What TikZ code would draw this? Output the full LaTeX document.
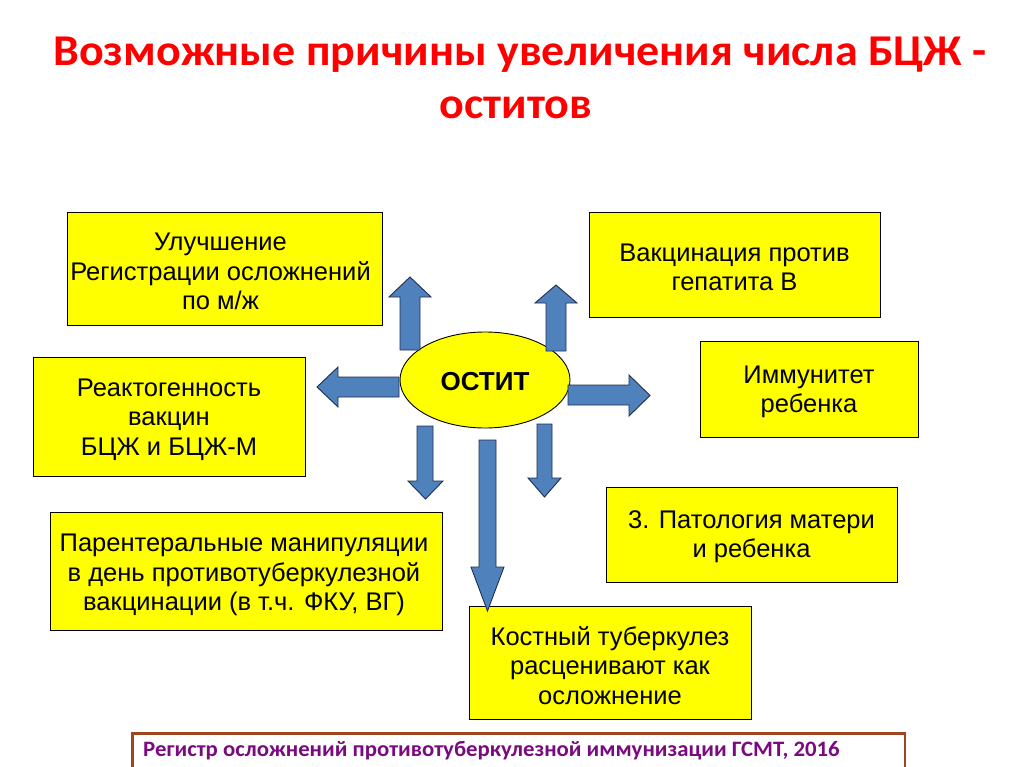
\documentclass[tikz,border=0pt]{standalone}
\usepackage{fontspec}
\setmainfont{Liberation Sans}
\newfontfamily\titlefont{Carlito}
\usetikzlibrary{shapes.geometric}
\definecolor{boxyellow}{HTML}{FFFF00}
\definecolor{arrowblue}{HTML}{4F81BD}
\definecolor{arrowedge}{HTML}{1F2F4F}
\definecolor{titlered}{HTML}{FF0000}
\definecolor{refbrown}{HTML}{A0461E}
\definecolor{refpurple}{HTML}{7A0A80}
\tikzset{
  causebox/.style={draw=black, line width=0.9pt, fill=boxyellow, inner sep=0pt},
  boxtext/.style={align=center, inner sep=0pt, font=\fontsize{25.5}{29.5}\selectfont},
  barrow/.style={draw=arrowedge, line width=0.9pt, fill=arrowblue, line join=miter},
  titletext/.style={anchor=base, inner sep=0pt, text=titlered, font=\titlefont\bfseries\fontsize{44}{53}\selectfont},
}
\begin{document}
\begin{tikzpicture}[x=1pt,y=-1pt]
\useasboundingbox (0,0) rectangle (1024,767);
\fill[white] (0,0) rectangle (1024,767);
% title
\node[titletext] (title1) at (520,66) {\scalebox{1.045}[1]{Возможные причины увеличения числа БЦЖ -}};
\node[titletext] (title2) at (516,119) {\scalebox{1.045}[1]{оститов}};
% boxes
\node[causebox, minimum width=315, minimum height=113] (reg) at (224.5,268.5) {};
\node[boxtext] (regtext) at ([xshift=-4pt,yshift=-3pt]reg.center) {Улучшение\\Регистрации осложнений\\по м/ж};
\node[causebox, minimum width=291, minimum height=105] (vac) at (734.5,264.5) {};
\node[boxtext] (vactext) at ([yshift=-3pt]vac.center) {Вакцинация против\\гепатита В};
\node[causebox, minimum width=218, minimum height=96] (imm) at (809,389) {};
\node[boxtext] (immtext) at ([yshift=-3pt]imm.center) {Иммунитет\\ребенка};
\node[causebox, minimum width=272, minimum height=119] (react) at (169,416.5) {};
\node[boxtext] (reacttext) at ([yshift=-3pt]react.center) {Реактогенность\\вакцин\\БЦЖ и БЦЖ-М};
\node[causebox, minimum width=291, minimum height=95] (pat) at (751.5,534.5) {};
\node[boxtext] (pattext) at ([yshift=-2pt]pat.center) {3. Патология матери\\и ребенка};
\node[causebox, minimum width=392, minimum height=118] (par) at (246,571) {};
\node[boxtext] (partext) at ([xshift=-2pt,yshift=-4pt]par.center) {Парентеральные манипуляции\\в день противотуберкулезной\\вакцинации (в т.ч. ФКУ, ВГ)};
\node[causebox, minimum width=282, minimum height=113] (bone) at (610,662.5) {};
\node[boxtext] (bonetext) at ([yshift=-3pt]bone.center) {Костный туберкулез\\расценивают как\\осложнение};
% centre
\node[ellipse, draw=black, line width=0.9pt, fill=boxyellow, minimum width=170, minimum height=96,
  inner sep=0pt] (ost) at (485,380) {};
\node[inner sep=0pt, font=\bfseries\fontsize{26}{30}\selectfont] (osttext) at ([yshift=-2pt]ost.center) {ОСТИТ};
% block arrows
\draw[barrow] (400,350) -- (400,297) -- (389,297) -- (410,277) -- (431,297) -- (420,297) -- (420,350) -- cycle;
\draw[barrow] (546,351) -- (546,303) -- (535,303) -- (556,285) -- (577,303) -- (566,303) -- (566,351) -- cycle;
\draw[barrow] (399,377) -- (338,377) -- (338,367) -- (317,387) -- (338,407) -- (338,397) -- (399,397) -- cycle;
\draw[barrow] (568,385) -- (629,385) -- (629,375) -- (650,395.5) -- (629,416) -- (629,405) -- (568,405) -- cycle;
\draw[barrow] (417,426) -- (417,481) -- (408,481) -- (425.5,499) -- (443,481) -- (433,481) -- (433,426) -- cycle;
\draw[barrow] (537,424) -- (537,478) -- (528,478) -- (544.5,497) -- (561,478) -- (552,478) -- (552,424) -- cycle;
\draw[barrow] (479,440) -- (479,567) -- (471,567) -- (487.5,611) -- (504,567) -- (496,567) -- (496,440) -- cycle;
% source box
\draw[draw=refbrown, line width=2.5pt] (132.5,790) -- (132.5,733.5) -- (905,733.5) -- (905,790);
\node[anchor=base west, inner sep=0pt, font=\titlefont\bfseries\fontsize{22}{26}\selectfont, text=refpurple] (src) at (143,756)
  {\scalebox{1.035}[1]{Регистр осложнений противотуберкулезной иммунизации ГСМТ, 2016}};
\end{tikzpicture}
\end{document}
